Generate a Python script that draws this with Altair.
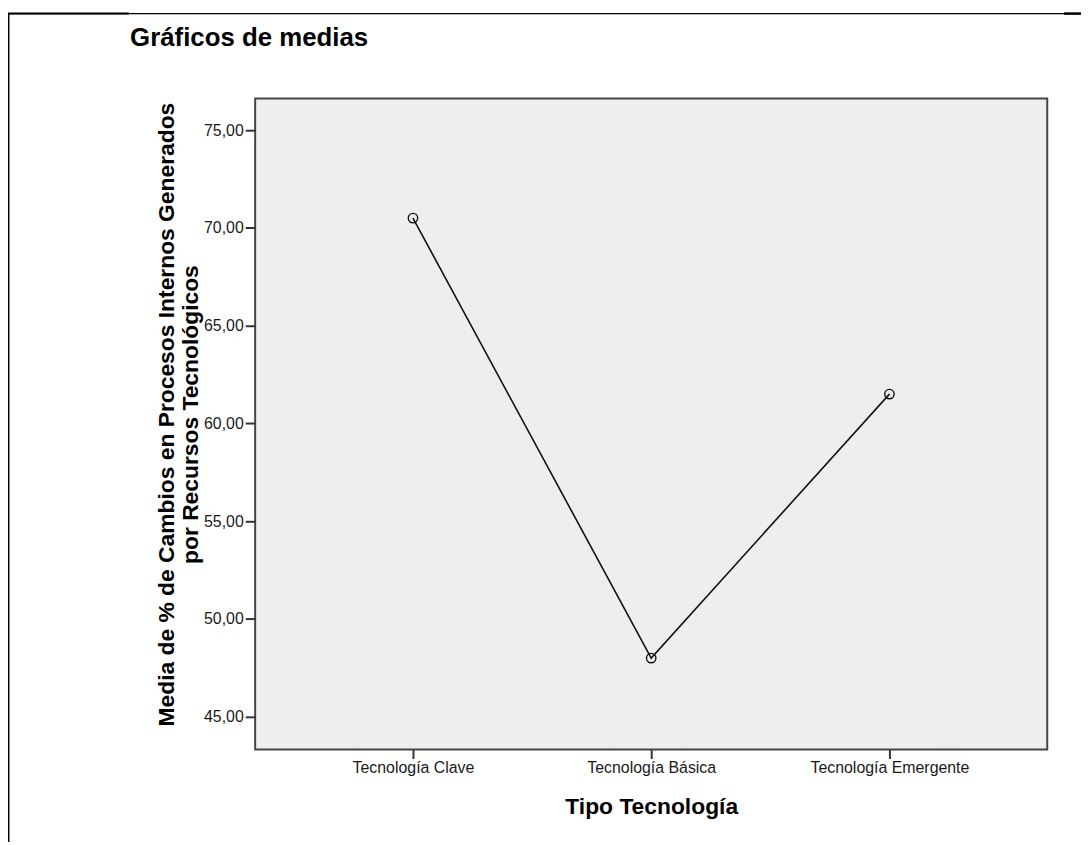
import altair as alt
import pandas as pd

# ---- data ----
categories = ["Tecnología Clave", "Tecnología Básica", "Tecnología Emergente"]
means = [70.5, 48.0, 61.5]
y_ticks = [45, 50, 55, 60, 65, 70, 75]

df = pd.DataFrame({"tipo": categories, "media": means})

FONT = "Liberation Sans"
W, H = 798, 656

x_enc = alt.X(
    "tipo:N",
    sort=categories,
    scale=alt.Scale(type="point", padding=0.6625),
    axis=alt.Axis(
        title="Tipo Tecnología",
        labelAngle=0,
        labelFontSize=16,
        labelFont=FONT,
        labelColor="#1a1a1a",
        labelPadding=1,
        tickSize=9,
        tickWidth=2,
        tickColor="#333333",
        domain=False,
        grid=False,
        titleFont=FONT,
        titleFontSize=23,
        titleFontWeight="bold",
        titleColor="#000000",
        titleBaseline="alphabetic",
        titleY=64,
    ),
)

y_enc = alt.Y(
    "media:Q",
    scale=alt.Scale(domain=[43.32, 76.62], nice=False, zero=False),
    axis=alt.Axis(
        title=["Media de % de Cambios en Procesos Internos Generados",
               "por Recursos Tecnológicos"],
        values=y_ticks,
        labelExpr="replace(format(datum.value, '.2f'), '.', ',')",
        labelFontSize=16,
        labelFont=FONT,
        labelColor="#1a1a1a",
        labelPadding=2,
        tickSize=10,
        tickWidth=2,
        tickColor="#333333",
        domain=False,
        grid=False,
        titleFont=FONT,
        titleFontSize=23,
        titleFontWeight="bold",
        titleColor="#000000",
        titleLineHeight=24,
        titleAngle=270,
        titleAlign="center",
        titleBaseline="alphabetic",
        titleX=-82,
        titleY=318,
    ),
)

line = alt.Chart(df).mark_line(color="#111111", strokeWidth=1.6).encode(x=x_enc, y=y_enc)
points = alt.Chart(df).mark_point(
    filled=False, color="#111111", size=90, strokeWidth=1.4, opacity=1
).encode(x=x_enc, y=y_enc)

# page frame lines (decoration of the output viewer)
frame_df = pd.DataFrame({"k": [0]})
frame_left = alt.Chart(frame_df).mark_rule(color="#000000", strokeWidth=2).encode(
    x=alt.value(-248.5), y=alt.value(-86), y2=alt.value(749)
)
frame_top = alt.Chart(frame_df).mark_rule(color="#000000", strokeWidth=1.2).encode(
    x=alt.value(-249), x2=alt.value(832), y=alt.value(-85.5)
)
frame_top_l = alt.Chart(frame_df).mark_rule(color="#000000", strokeWidth=2).encode(
    x=alt.value(-249), x2=alt.value(-127), y=alt.value(-85.5)
)
frame_top_r = alt.Chart(frame_df).mark_rule(color="#000000", strokeWidth=2.5).encode(
    x=alt.value(815), x2=alt.value(832), y=alt.value(-85.5)
)

chart = (
    alt.layer(frame_left, frame_top, frame_top_l, frame_top_r, line, points)
    .properties(
        width=W,
        height=H,
        background="#FFFFFF",
        autosize=alt.AutoSizeParams(type="none"),
        padding={"left": 249, "top": 88, "right": 34, "bottom": 93},
        title=alt.TitleParams(
            "Gráficos de medias",
            anchor="start",
            frame="group",
            font=FONT,
            fontSize=26,
            fontWeight="bold",
            color="#000000",
            baseline="alphabetic",
            offset=0,
            dx=-126,
            dy=60,
        ),
    )
    .configure_view(fill="#EEEEEE", stroke="#454545", strokeWidth=2)
)

chart.save("out.html", embed_options={"renderer": "svg", "actions": False})
